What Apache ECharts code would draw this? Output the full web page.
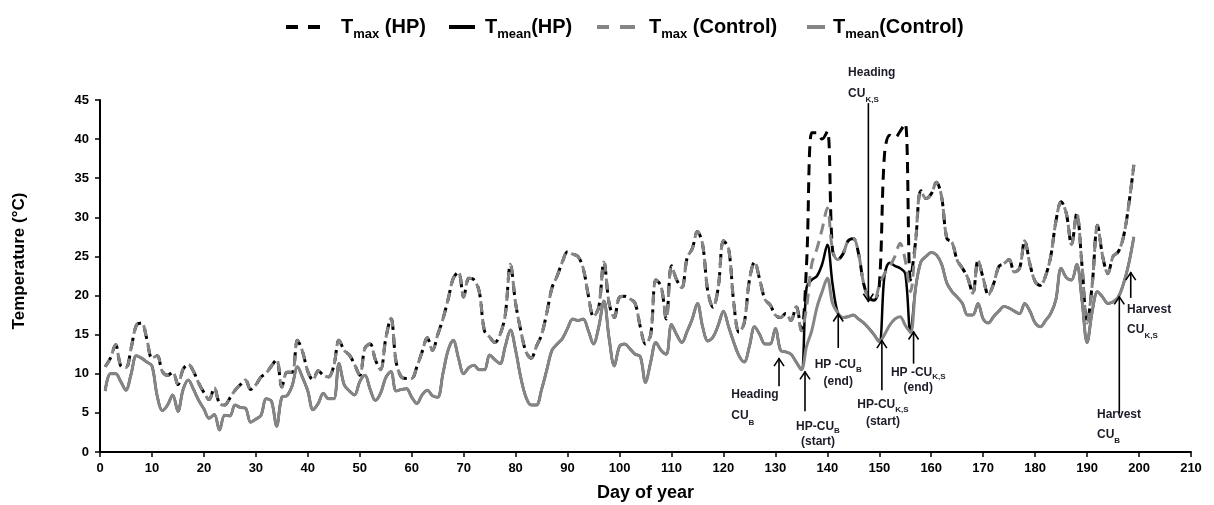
<!DOCTYPE html>
<html><head><meta charset="utf-8">
<script src="https://cdn.jsdelivr.net/npm/echarts@6/dist/echarts.min.js"></script>
<style>html,body{margin:0;padding:0;background:#fff}#c{width:1214px;height:505px}</style>
</head><body><div id="c"></div>
<script>
// ---- data (day of year 1..199) ----
const tmaxControl = [
 10.9, 12.0, 13.7, 11.0, 10.8, 13.3, 16.2, 16.5, 14.5, 12.0,
 12.3, 10.3,  9.8, 10.2,  8.6, 10.6, 11.2, 10.3,  8.8,  7.6,
  6.7,  8.2,  6.2,  6.0,  6.9,  7.9,  8.6,  9.2,  8.0,  8.6,
  9.6, 10.1, 11.0, 11.8,  8.3, 10.2, 10.2, 14.3, 12.8, 10.3,
  9.2, 10.4,  9.8,  9.6, 11.0, 14.3, 13.0, 12.4, 11.2,  9.8,
 13.3, 13.8, 11.8, 10.5, 14.5, 17.1, 11.5,  9.6,  9.4,  9.4,
 10.9, 12.8, 14.6, 13.0, 15.0, 17.0, 19.5, 22.2, 23.0, 19.8,
 22.2, 22.0, 20.5, 15.5, 14.7, 14.0, 15.0, 17.5, 24.0, 19.0,
 15.5, 12.8, 12.0, 13.5, 15.0, 17.8, 21.0, 22.5, 24.3, 25.6,
 25.3, 25.0, 23.5, 20.0, 17.3, 18.5, 24.3, 19.0, 17.2, 19.8,
 19.9, 19.6, 19.0, 16.0, 13.8, 15.0, 22.0, 21.2, 17.0, 23.8,
 22.0, 21.0, 24.8, 26.0, 28.2, 26.5, 20.5, 18.5, 21.0, 27.0,
 26.0, 19.0, 15.3, 16.5, 22.0, 24.3, 22.0, 19.5, 18.8, 17.5,
 17.2, 17.7, 16.8, 18.6, 15.5, 18.5, 24.0, 26.0, 28.5, 31.2,
 25.8, 24.6, 25.3, 27.0, 27.3, 25.4, 21.5, 19.7, 19.4, 21.3,
 22.8, 23.7, 25.0, 26.7, 24.5, 20.5, 27.0, 33.4, 32.4, 33.0,
 34.5, 32.6, 27.3, 26.8, 24.5, 23.5, 22.3, 20.3, 24.5, 22.2,
 20.1, 21.5, 23.7, 24.1, 24.6, 23.0, 23.5, 27.0, 24.0, 21.8,
 21.3, 22.5, 25.0, 29.5, 32.0, 30.5, 26.5, 30.5, 24.0, 16.5,
 21.5, 29.0, 25.0, 22.8, 25.0, 25.6, 27.5, 31.5, 36.7
];
const tmeanControl = [
  7.8, 10.0, 10.0,  9.0,  7.9, 10.0, 12.3, 12.0, 11.5, 11.0,
  7.2,  5.3,  6.0,  7.3,  5.2,  8.0,  9.2,  8.0,  6.6,  5.5,
  4.3,  4.8,  2.8,  4.7,  4.6,  6.0,  5.7,  5.6,  3.8,  4.2,
  4.7,  6.8,  6.5,  3.3,  7.0,  7.2,  8.5, 10.9,  9.5,  7.8,
  5.4,  6.2,  7.5,  6.8,  6.8, 11.3,  8.6,  7.8,  7.3,  9.0,
  9.8,  8.0,  6.6,  7.5,  9.5, 10.3,  7.8,  8.0,  8.1,  7.0,
  6.2,  7.3,  7.9,  7.2,  7.0, 10.0, 13.0, 14.3, 12.0, 10.0,
 10.8, 11.1, 10.5, 10.5, 12.4, 11.8, 11.3, 13.5, 15.6, 13.0,
  9.5,  7.0,  6.0,  6.0,  8.0, 10.5, 13.0, 13.8, 14.5, 15.8,
 17.0, 16.8, 17.0, 15.5, 13.8, 16.0, 19.3, 14.5, 11.0, 13.5,
 13.8, 13.2, 12.5, 12.2,  8.9, 11.5, 14.0, 13.0, 12.5, 16.3,
 15.0, 14.0, 15.4, 17.0, 19.0, 16.0, 14.2, 14.7, 16.2, 18.0,
 16.0, 14.0, 12.3, 11.5, 13.5, 16.0, 15.0, 13.8, 13.8, 15.8,
 13.0, 12.8, 12.5, 11.5, 10.5, 13.5, 15.5, 18.5, 20.5, 22.2,
 19.0, 17.8, 17.2, 17.3, 17.5, 17.0, 16.5, 15.8, 15.0, 14.1,
 15.0, 16.2, 17.0, 17.3, 16.2, 15.3, 21.0, 24.3, 25.0, 25.5,
 25.2, 24.0, 21.6, 20.5, 19.8, 19.0, 17.5, 17.5, 19.0, 17.0,
 16.5, 17.3, 18.0, 18.6, 18.4, 18.0, 17.7, 19.0, 18.0, 16.5,
 16.0, 16.8, 17.7, 19.5, 23.5, 22.3, 22.0, 24.0, 19.5, 14.0,
 18.0, 20.5, 19.8, 19.0, 19.2, 19.8, 21.5, 24.0, 27.5
];
// HP treatment differs from the control only during the heating periods
const tmaxHPDays   = [136, 137, 138, 139, 140, 151, 152, 153, 154, 155, 156];
const tmaxHPValues = [24.0, 40.8, 40.8, 40.0, 41.0, 38.0, 40.5, 40.2, 41.0, 42.0, 22.0];
const tmeanHPDays   = [136, 137, 138, 139, 140, 141, 151, 152, 153, 154, 155];
const tmeanHPValues = [21.0, 22.0, 22.5, 24.0, 26.5, 21.5, 22.5, 24.2, 23.8, 23.5, 22.8];
const seriesNames = ['Tmax (HP)', 'Tmean(HP)', 'Tmax (Control)', 'Tmean(Control)'];
const xTicks = {min: 0, max: 210, interval: 10};
const yTicks = {min: 0, max: 45, interval: 5};

const days = tmaxControl.map((_, i) => i + 1);
function withOverrides(base, oDays, oVals) {
  const arr = base.slice();
  oDays.forEach((d, k) => { arr[d - 1] = oVals[k]; });
  return arr;
}
const tmaxHP = withOverrides(tmaxControl, tmaxHPDays, tmaxHPValues);
const tmeanHP = withOverrides(tmeanControl, tmeanHPDays, tmeanHPValues);
const pairs = arr => days.map((d, i) => [d, arr[i]]);

// ---- annotations (arrows + labels, in data coordinates) ----
const annotations = [
  {x: 130.7, from: 8.4, to: 12.0, lx: 121.5, ly: 8.63, align: 'left', lh: 21, text: '{n|Heading}\n{n|CU}{s|B}'},
  {x: 135.7, from: 5.2, to: 10.3, lx: 138.2, ly: 4.16, align: 'center', lh: 15, text: '{n|HP-CU}{s|B}\n{n|(start)}'},
  {x: 142.1, from: 13.3, to: 17.7, lx: 142.1, ly: 12.21, align: 'center', lh: 17, text: '{n|HP -CU}{s|B}\n{n|(end)}'},
  {x: 150.5, from: 7.9, to: 14.3, lx: 150.7, ly: 7.10, align: 'center', lh: 17, text: '{n|HP-CU}{s|K,S}\n{n|(start)}'},
  {x: 156.6, from: 11.3, to: 15.4, lx: 157.5, ly: 11.06, align: 'center', lh: 15, text: '{n|HP -CU}{s|K,S}\n{n|(end)}'},
  {x: 147.9, from: 44.6, to: 19.2, lx: 144.0, ly: 49.87, align: 'left', lh: 21, text: '{n|Heading}\n{n|CU}{s|K,S}'},
  {x: 196.2, from: 4.9, to: 19.9, lx: 191.9, ly: 6.01, align: 'left', lh: 20, text: '{n|Harvest}\n{n|CU}{s|B}'},
  {x: 198.4, from: 19.7, to: 23.0, lx: 197.7, ly: 19.44, align: 'left', lh: 20, text: '{n|Harvest}\n{n|CU}{s|K,S}'}
];

const FONT = "'Liberation Sans', Arial, sans-serif";
const GREY = '#858585';

function legendItem(name, left, width, pad, lineStyle) {
  return {
    data: [name], top: 13, left: left, padding: 0,
    itemWidth: width, itemHeight: 14,
    itemStyle: {opacity: 0},
    lineStyle: lineStyle,
    formatter: n => n.replace(/^T(max|mean)/, 'T{sub|$1}'),
    textStyle: {
      fontFamily: FONT, fontSize: 20, fontWeight: 'bold', color: '#000', lineHeight: 28,
      padding: [0, 0, 0, pad],
      rich: {sub: {fontFamily: FONT, fontSize: 13, fontWeight: 'bold', color: '#000', lineHeight: 28, verticalAlign: 'bottom'}}
    }
  };
}

const chart = echarts.init(document.getElementById('c'), null, {renderer: 'canvas'});
chart.setOption({
  animation: false,
  backgroundColor: '#fff',
  legend: [
    legendItem(seriesNames[0], 284, 34, 16, {type: [12, 10], width: 4, color: '#000'}),
    legendItem(seriesNames[1], 447, 26, 5, {type: 'solid', width: 4, color: '#000'}),
    legendItem(seriesNames[2], 595, 41, 6, {type: [15, 11], width: 4, color: GREY}),
    legendItem(seriesNames[3], 805, 18, 3, {type: 'solid', width: 4, color: GREY})
  ],
  grid: {left: 100, right: 23, top: 100, bottom: 53, containLabel: false, outerBoundsMode: 'none'},
  xAxis: {
    type: 'value', min: xTicks.min, max: xTicks.max, interval: xTicks.interval,
    name: 'Day of year', nameLocation: 'middle', nameGap: 32,
    nameTextStyle: {fontFamily: FONT, fontSize: 18, fontWeight: 'bold', color: '#000'},
    axisLine: {show: true, lineStyle: {color: '#000', width: 2}},
    axisTick: {show: true, length: 5, lineStyle: {color: '#000', width: 1.5}},
    axisLabel: {margin: 10, fontFamily: FONT, fontSize: 13, fontWeight: 'bold', color: '#000'},
    splitLine: {show: false}
  },
  yAxis: {
    type: 'value', min: yTicks.min, max: yTicks.max, interval: yTicks.interval,
    name: 'Temperature (°C)', nameLocation: 'middle', nameGap: 72, nameRotate: 90,
    nameTextStyle: {fontFamily: FONT, fontSize: 17, fontWeight: 'bold', color: '#000', padding: [0, 0, 0, 30]},
    axisLine: {show: true, lineStyle: {color: '#000', width: 2}},
    axisTick: {show: true, length: 5, lineStyle: {color: '#000', width: 1.5}},
    axisLabel: {margin: 11, fontFamily: FONT, fontSize: 13, fontWeight: 'bold', color: '#000'},
    splitLine: {show: false}
  },
  series: [
    {name: seriesNames[0], type: 'line', data: pairs(tmaxHP), symbol: 'none', smooth: 0.35,
     lineStyle: {color: '#000', width: 3, type: [11, 7]}, itemStyle: {color: '#000'}},
    {name: seriesNames[1], type: 'line', data: pairs(tmeanHP), symbol: 'none', smooth: 0.35,
     lineStyle: {color: '#000', width: 2.5}, itemStyle: {color: '#000'}},
    {name: seriesNames[2], type: 'line', data: pairs(tmaxControl), symbol: 'none', smooth: 0.35,
     lineStyle: {color: GREY, width: 3, type: [11, 7], dashOffset: 3}, itemStyle: {color: GREY}},
    {name: seriesNames[3], type: 'line', data: pairs(tmeanControl), symbol: 'none', smooth: 0.35,
     lineStyle: {color: GREY, width: 3}, itemStyle: {color: GREY}},
    {
      type: 'custom', clip: false, silent: true, z: 5,
      data: annotations.map(a => [a.x, a.from, a.to]),
      encode: {x: 0, y: [1, 2]},
      renderItem: function (params, api) {
        const a = annotations[params.dataIndex];
        const p1 = api.coord([a.x, a.from]);
        const p2 = api.coord([a.x, a.to]);
        const s = p2[1] < p1[1] ? 1 : -1;
        const t = api.coord([a.lx, a.ly]);
        return {
          type: 'group',
          children: [
            {type: 'line', shape: {x1: p1[0], y1: p1[1], x2: p2[0], y2: p2[1]},
             style: {stroke: '#000', lineWidth: 1.6}},
            {type: 'polyline', shape: {points: [[p2[0] - 5, p2[1] + s * 8], [p2[0], p2[1] + s * 0.5], [p2[0] + 5, p2[1] + s * 8]]},
             style: {stroke: '#000', lineWidth: 1.6, fill: null}},
            {type: 'text', x: t[0], y: t[1],
             style: {
               text: a.text, align: a.align, verticalAlign: 'top', fill: '#1c1c28',
               rich: {
                 n: {fontFamily: FONT, fontSize: 12, fontWeight: 'bold', fill: '#1c1c28', lineHeight: a.lh},
                 s: {fontFamily: FONT, fontSize: 8, fontWeight: 'bold', fill: '#1c1c28', lineHeight: a.lh, verticalAlign: 'bottom'}
               }
             }}
          ]
        };
      }
    }
  ]
});
</script></body></html>
